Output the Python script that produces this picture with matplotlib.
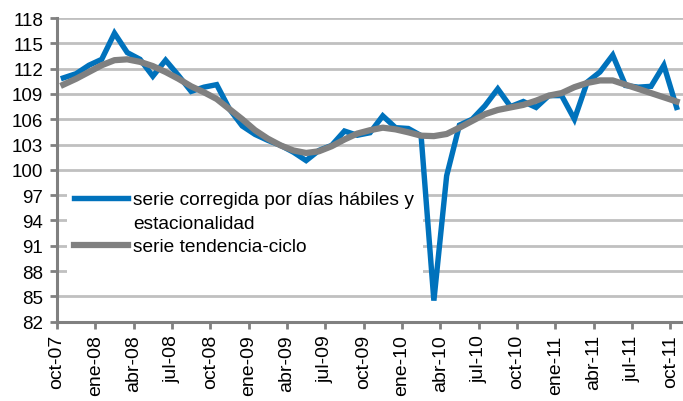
import matplotlib
matplotlib.use("Agg")
import matplotlib.pyplot as plt
from matplotlib.patches import Rectangle
from matplotlib.lines import Line2D
import numpy as np

plt.rcParams['font.family'] = ['Liberation Sans', 'DejaVu Sans']

# Monthly data oct-07 .. oct-11
serie_corregida = [110.9, 111.4, 112.4, 113.1, 116.2, 113.9, 113.1, 111.1, 113.0, 111.2,
                   109.3, 109.8, 110.1, 107.2, 105.2, 104.2, 103.5, 102.9, 102.1, 101.1,
                   102.3, 102.9, 104.6, 104.1, 104.4, 106.4, 105.0, 104.9, 104.05, 84.5,
                   99.3, 105.3, 106.0, 107.6, 109.6, 107.5, 108.1, 107.4, 108.8, 108.8,
                   106.0, 110.4, 111.6, 113.6, 110.0, 109.8, 109.9, 112.4, 107.4]
serie_tendencia = [110.1, 110.8, 111.6, 112.4, 113.0, 113.1, 112.8, 112.3, 111.6, 110.8,
                   109.9, 109.2, 108.4, 107.2, 106.0, 104.7, 103.7, 102.9, 102.3, 102.0,
                   102.2, 102.8, 103.6, 104.3, 104.7, 105.0, 104.8, 104.45, 104.05, 104.0,
                   104.25, 105.0, 105.8, 106.6, 107.1, 107.4, 107.7, 108.2, 108.8, 109.1,
                   109.8, 110.3, 110.6, 110.6, 110.1, 109.6, 109.1, 108.6, 108.1]
tick_labels = ['oct-07', 'ene-08', 'abr-08', 'jul-08', 'oct-08', 'ene-09', 'abr-09',
               'jul-09', 'oct-09', 'ene-10', 'abr-10', 'jul-10', 'oct-10', 'ene-11',
               'abr-11', 'jul-11', 'oct-11']
y_ticks = list(range(82, 119, 3))
label_blue_1 = 'serie corregida por días hábiles y'
label_blue_2 = 'estacionalidad'
label_gray = 'serie tendencia-ciclo'

W, H = 683, 402
fig = plt.figure(figsize=(W / 100, H / 100), dpi=100)
ax = fig.add_axes([57 / W, 1 - 322.7 / H, (683 - 57) / W, (322.7 - 19) / H])

x = np.arange(len(serie_corregida))
h_blue, = ax.plot(x, serie_corregida, color='#0072BC', lw=3.9, solid_joinstyle='miter',
                  zorder=3)
h_gray, = ax.plot(x, serie_tendencia, color='#808080', lw=4.5, solid_joinstyle='round',
                  zorder=4)

ax.set_xlim(-0.5, len(serie_corregida) - 0.5)
ax.set_ylim(82, 118)
ax.set_yticks(y_ticks)
ax.set_yticklabels([str(v) for v in y_ticks], fontsize=13.5)
ax.set_xticks(np.arange(-0.5, len(serie_corregida) - 1, 3))
ax.set_xticklabels(tick_labels, rotation=90, fontsize=14)

ax.yaxis.grid(True, color='#C0C0C0', lw=2.0, zorder=0)
ax.set_axisbelow(True)
for s in ['top', 'right']:
    ax.spines[s].set_visible(False)
for s in ['left', 'bottom']:
    ax.spines[s].set_color('#808080')
    ax.spines[s].set_linewidth(2.2)
ax.tick_params(axis='y', direction='out', length=5, width=2, color='#808080', pad=5)
ax.tick_params(axis='x', direction='out', length=5, width=2, color='#808080', pad=4)

# white legend area hiding the gridlines
ax.add_patch(Rectangle((67 / W, 1 - 284 / H), (423 - 67) / W, (284 - 181) / H,
                       transform=fig.transFigure, facecolor='white', edgecolor='none',
                       zorder=1))

h_empty = Line2D([], [], color='none')
leg = ax.legend([h_blue, h_empty, h_gray], [label_blue_1, label_blue_2, label_gray],
                loc='upper left', bbox_to_anchor=(70 / W, 1 - 188 / H),
                bbox_transform=fig.transFigure, fontsize=13.8, frameon=False,
                handlelength=2.8, handletextpad=0.28, borderpad=0.2,
                labelspacing=0.32, borderaxespad=0)
leg.set_zorder(5)

fig.savefig('out.png', dpi=100)
